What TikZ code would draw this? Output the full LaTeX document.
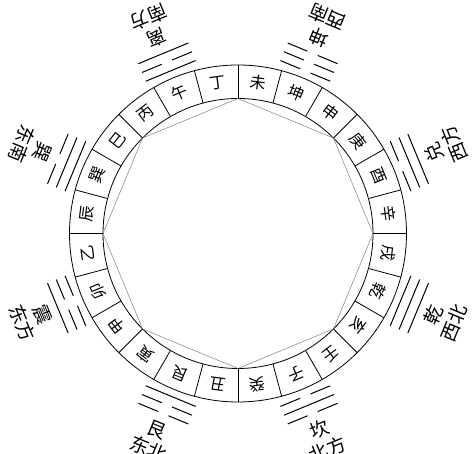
\documentclass[tikz,border=0pt]{standalone}
\usepackage{fontspec}
\newfontfamily\cjk{Noto Sans CJK SC}
\usetikzlibrary{math}

\begin{document}
\begin{tikzpicture}[x=1pt,y=1pt,
    mountain/.style={font=\cjk\fontsize{16}{16}\selectfont, inner sep=0pt},
    gualabel/.style={font=\cjk\fontsize{19}{22}\selectfont, align=center, inner sep=0pt},
    yao/.style={line width=1pt}]

\useasboundingbox (0,0) rectangle (474,454);
\clip (0,0) rectangle (474,454);

% Sizes of the ring
\tikzmath{
    \cx = 238;
    \cy = 220.5;
    \rin = 135;
    \rout = 168.5;
    \rmid = 152;
    \half = 27;
    \gap = 5.5;
}

\begin{scope}[shift={(\cx,\cy)}]

% Draws the ring and the octagon
\draw[line width=0.8pt] (0,0) circle (\rout);
\draw[line width=0.8pt] (0,0) circle (\rin);
\draw[gray, line width=0.5pt]
    (0:\rin) \foreach \a in {45,90,...,315} { -- (\a:\rin) } -- cycle;

% Cells of the 24 mountains
\foreach \a in {0,15,...,345} {
    \draw[line width=0.8pt] (\a:\rin) -- (\a:\rout);
}
\foreach \m [count=\i] in {午,丁,未,坤,申,庚,酉,辛,戌,乾,亥,壬,子,癸,丑,艮,寅,甲,卯,乙,辰,巽,巳,丙} {
    \pgfmathsetmacro\ang{112.5-15*(\i-1)}
    \node[mountain, rotate=\ang-90] (m\i) at (\ang:\rmid) {\m};
}

% Trigrams and their names
\foreach \g/\ya/\yb/\yc/\d [count=\j] in {离/1/0/1/南方, 坤/0/0/0/西南, 兑/0/1/1/西方, 乾/1/1/1/西北,
        坎/0/1/0/北方, 艮/1/0/0/东北, 震/0/0/1/东方, 巽/1/1/0/东南} {
    \pgfmathsetmacro\ang{112.5-45*(\j-1)}
    \begin{scope}[rotate=\ang-90]
        \foreach \y [count=\l] in {\ya,\yb,\yc} {
            \pgfmathsetmacro\r{166.5+9.5*\l}
            \ifnum\y=1
                \draw[yao] (-\half,\r) -- (\half,\r);
            \else
                \draw[yao] (-\half,\r) -- (-\gap,\r);
                \draw[yao] (\gap,\r) -- (\half,\r);
            \fi
        }
    \end{scope}
    \node[gualabel, rotate=\ang+90] (lab\j) at (\ang:223) {\g\\\d};
}

\end{scope}

\end{tikzpicture}
\end{document}
